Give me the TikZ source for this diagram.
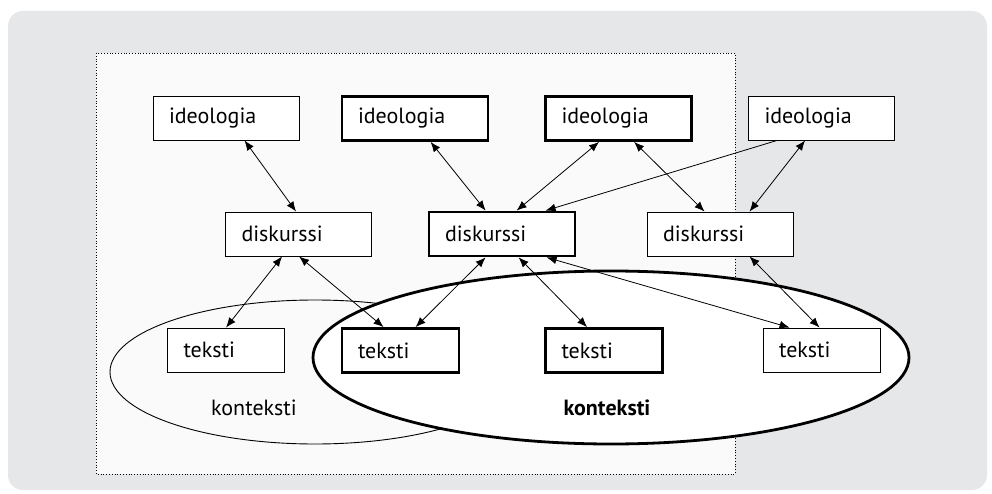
\documentclass[tikz,border=0pt]{standalone}
\usepackage{fontspec}
\setmainfont{PT Sans}
\usetikzlibrary{arrows.meta}
\definecolor{bggray}{HTML}{E6E7E9}
\definecolor{panel}{HTML}{FAFAFA}
\tikzset{
  box/.style={draw, fill=white, line width=0.9pt, minimum height=44pt, inner xsep=16pt, align=left, font=\fontsize{22}{24}\selectfont},
  wide/.style={text width=114pt},
  narrow/.style={text width=85pt},
  thick box/.style={line width=2.8pt},
  link/.style={line width=0.8pt, {Latex[length=10pt,width=8pt]}-{Latex[length=10pt,width=8pt]}},
  onelink/.style={line width=0.8pt, -{Latex[length=10pt,width=8pt]}},
  ctx/.style={font=\fontsize{22}{24}\selectfont}
}
\begin{document}
\begin{tikzpicture}[x=1pt,y=-1pt]
\useasboundingbox (0,0) rectangle (992,494);
\fill[bggray, rounded corners=15pt] (8,11) rectangle (987,490);
\draw[dotted, line width=0.8pt, fill=panel] (96,53) rectangle (735,474);
\draw[line width=0.9pt, fill=panel] (315,372) ellipse [x radius=205, y radius=72];
\draw[line width=2.8pt, fill=white] (611,357.5) ellipse [x radius=298, y radius=86.5];
\node[ctx] (k1) at (254,408) {konteksti};
\node[ctx, font=\fontsize{22}{24}\selectfont\bfseries] (k2) at (607,408) {konteksti};
% nodes
\node[box, wide] (i1) at (226,118) {ideologia};
\node[box, wide, thick box] (i2) at (415,118.5) {ideologia};
\node[box, wide, thick box] (i3) at (618.5,118.5) {ideologia};
\node[box, wide] (i4) at (821.5,118) {ideologia};
\node[box, wide] (d1) at (298.5,234) {diskurssi};
\node[box, wide, thick box] (d2) at (502,234) {diskurssi};
\node[box, wide] (d3) at (720,234) {diskurssi};
\node[box, narrow] (t1) at (226,350) {teksti};
\node[box, narrow, thick box] (t2) at (400.5,350.5) {teksti};
\node[box, narrow, thick box] (t3) at (604,350.5) {teksti};
\node[box, narrow] (t4) at (821.5,350) {teksti};
% upper links
\draw[link] ([xshift=92pt]i1.south west) -- ([xshift=71pt]d1.north west);
\draw[link] ([xshift=90pt]i2.south west) -- ([xshift=58pt]d2.north west);
\draw[link] ([xshift=55pt]i3.south west) -- ([xshift=89pt]d2.north west);
\draw[onelink] ([xshift=29pt]i4.south west) -- ([xshift=118pt]d2.north west);
\draw[link] ([xshift=90pt]i3.south west) -- ([xshift=58pt]d3.north west);
\draw[link] ([xshift=57pt]i4.south west) -- ([xshift=103pt]d3.north west);
% lower links
\draw[link] ([xshift=57pt]d1.south west) -- ([xshift=59pt]t1.north west);
\draw[link] ([xshift=74pt]d1.south west) -- ([xshift=43pt]t2.north west);
\draw[link] ([xshift=58pt]d2.south west) -- ([xshift=75pt]t2.north west);
\draw[link] ([xshift=91pt]d2.south west) -- ([xshift=43pt]t3.north west);
\draw[link] ([xshift=119pt]d2.south west) -- ([xshift=27pt]t4.north west);
\draw[link] ([xshift=103pt]d3.south west) -- ([xshift=57pt]t4.north west);
\end{tikzpicture}
\end{document}
